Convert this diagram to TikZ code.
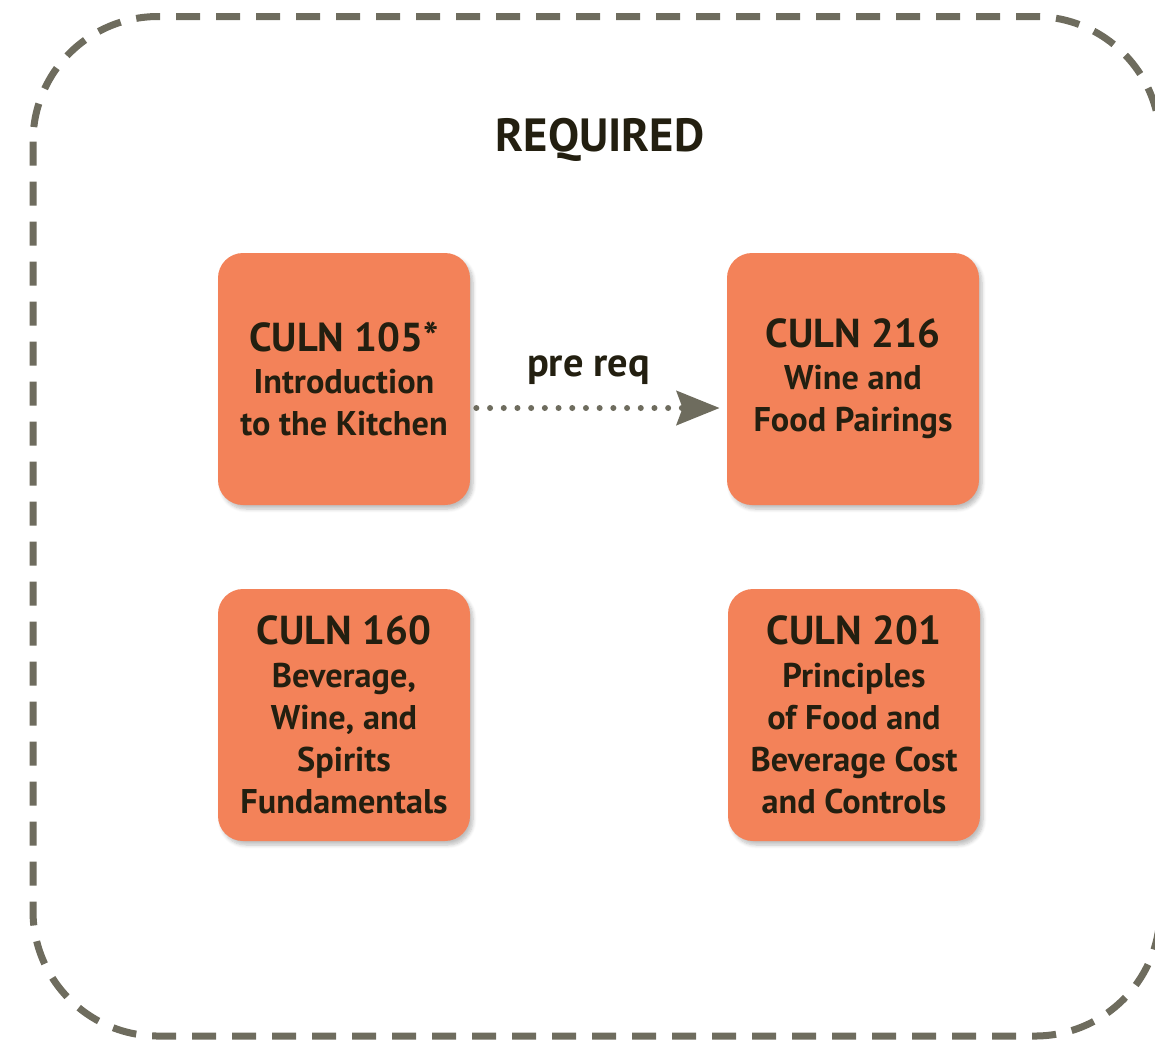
\documentclass[tikz,border=0pt]{standalone}
\usepackage{fontspec}
\setmainfont{PT Sans}
\usetikzlibrary{arrows.meta,shadows.blur}
\definecolor{culnorange}{HTML}{F38259}
\definecolor{culngray}{HTML}{6E6C5E}
\definecolor{culntext}{HTML}{231F10}

\begin{document}
\begin{tikzpicture}[
    course/.style={fill=culnorange, rounded corners=0.5cm, minimum width=5.04cm, minimum height=5.04cm, align=center, text=culntext,
        font=\bfseries\fontsize{19.5}{24}\selectfont,
        blur shadow={shadow xshift=0.06cm, shadow yshift=-0.08cm, shadow blur steps=6, shadow opacity=25}},
    code/.style={font=\bfseries\fontsize{23}{24}\selectfont}
]
    \useasboundingbox (0,0) rectangle (23.1,-20.8);
    \draw[culngray, line width=0.14cm, dash pattern=on 0.48cm off 0.32cm, rounded corners=2.5cm] (0.66,-0.33) rectangle (23.2,-20.72);
    \node[text=culntext, font=\bfseries\fontsize{26.5}{30}\selectfont] at (12,-2.8) (REQ) {REQUIRED};
    \node[course] at (6.88,-7.58) (C105) {{\fontsize{23}{24}\selectfont CULN 105*}\\Introduction\\to the Kitchen};
    \node[course] at (17.06,-7.58) (C216) {{\fontsize{23}{24}\selectfont CULN 216}\\Wine and\\Food Pairings};
    \node[course] at (6.88,-14.3) (C160) {{\fontsize{23}{24}\selectfont CULN 160}\\Beverage,\\Wine, and\\Spirits\\Fundamentals};
    \node[course] at (17.08,-14.3) (C201) {{\fontsize{23}{24}\selectfont CULN 201}\\Principles\\of Food and\\Beverage Cost\\and Controls};
    \draw[culngray, line width=0.12cm, line cap=round, dash pattern=on 0pt off 0.274cm, -{Stealth[length=0.86cm, width=0.68cm, inset=0.12cm]}, shorten <=0.12cm, shorten >=0.14cm] ([yshift=-0.58cm]C105.east) -- ([yshift=-0.58cm]C216.west) node[midway, above=0.3cm, xshift=-0.2cm, text=culntext, code] (PR) {pre req};
\end{tikzpicture}
\end{document}
